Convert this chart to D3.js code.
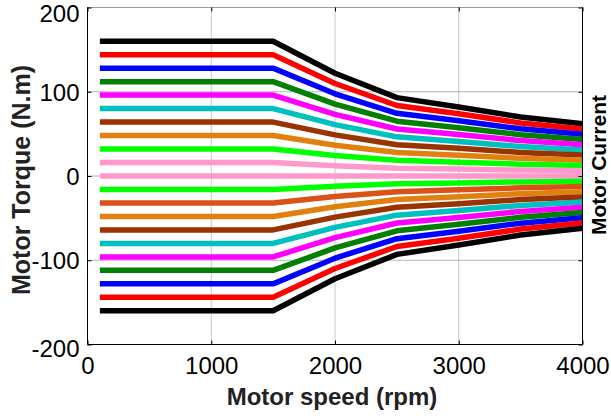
<!DOCTYPE html>
<html>
<head>
<meta charset="utf-8">
<script src="https://cdn.jsdelivr.net/npm/d3@7"></script>
<style>
  html, body { margin: 0; padding: 0; background: #fff; }
  svg { display: block; }
  text { font-family: "Liberation Sans", Arial, sans-serif; }
</style>
</head>
<body>
<svg id="chart" width="611" height="418"></svg>
<script>
// ---- data ----
const speeds = [100, 1500, 2000, 2500, 3000, 3500, 4000];
const xTicks = [0, 1000, 2000, 3000, 4000];
const yTicks = [-200, -100, 0, 100, 200];

const t10 = [160, 160, 122, 93, 82, 70, 62];
const t9  = [144, 144, 109.8, 83.7, 73.8, 63, 55.8];
const t8  = [128, 128, 97.6, 74.4, 65.6, 56, 49.6];
const t7  = [112, 112, 85.4, 65.1, 57.4, 49, 43.4];
const t6  = [96, 96, 73.2, 55.8, 49.2, 42, 37.2];
const t5  = [80, 80, 61, 46.5, 41, 35, 31];
const t4  = [64, 64, 48.8, 37.2, 32.8, 28, 24.8];
const t3  = [48, 48, 36.6, 27.9, 24.6, 21, 18.6];
const t2  = [32, 32, 24.4, 18.6, 16.4, 14, 12.4];
const t1  = [16, 16, 12.2, 9.3, 8.2, 7, 6.2];
const t0  = [0, 0, 0, 0, 0, 0, 0];
const n1  = [-16, -16, -12.2, -9.3, -8.2, -7, -6.2];
const n2  = [-32, -32, -24.4, -18.6, -16.4, -14, -12.4];
const n3  = [-48, -48, -36.6, -27.9, -24.6, -21, -18.6];
const n4  = [-64, -64, -48.8, -37.2, -32.8, -28, -24.8];
const n5  = [-80, -80, -61, -46.5, -41, -35, -31];
const n6  = [-96, -96, -73.2, -55.8, -49.2, -42, -37.2];
const n7  = [-112, -112, -85.4, -65.1, -57.4, -49, -43.4];
const n8  = [-128, -128, -97.6, -74.4, -65.6, -56, -49.6];
const n9  = [-144, -144, -109.8, -83.7, -73.8, -63, -55.8];
const n10 = [-160, -160, -122, -93, -82, -70, -62];

const seriesValues = [t10, t9, t8, t7, t6, t5, t4, t3, t2, t1, t0,
                      n1, n2, n3, n4, n5, n6, n7, n8, n9, n10];
const seriesColors = ["#000000", "#ff0000", "#0000ff", "#007f00", "#ff00ff", "#00bfbf",
                      "#993300", "#e08010", "#00ff00", "#ff99cc", "#ff99cc",
                      "#00ff00", "#d95319", "#e08010", "#993300", "#00bfbf",
                      "#ff00ff", "#007f00", "#0000ff", "#ff0000", "#000000"];

const xTitle = "Motor speed (rpm)";
const yTitle = "Motor Torque (N.m)";
const y2Title = "Motor Current";

// ---- layout ----
const svg = d3.select("#chart");
const L = 87.5, R = 582.5, T = 7.5, B = 344.5;

const x = d3.scaleLinear().domain([0, 4000]).range([L, R]);
const y = d3.scaleLinear().domain([-200, 200]).range([B, T]);
const fmt = d => String(d);

// grid
const grid = svg.append("g");
grid.selectAll("line.gx").data(xTicks.filter(d => d > 0 && d < 4000)).join("line")
  .attr("x1", d => x(d)).attr("x2", d => x(d)).attr("y1", T).attr("y2", B)
  .attr("stroke", "#8c8c8c").attr("stroke-width", 1).attr("stroke-dasharray", "1,1");
grid.selectAll("line.gy").data(yTicks.filter(d => d > -200 && d < 200)).join("line")
  .attr("x1", L).attr("x2", R).attr("y1", d => y(d)).attr("y2", d => y(d))
  .attr("stroke", "#6a6a6a").attr("stroke-width", 1).attr("stroke-dasharray", "1,1");

// series
const line = d3.line().x((d, i) => x(speeds[i])).y(d => y(d));
svg.append("g").selectAll("path").data(seriesValues).join("path")
  .attr("d", d => line(d))
  .attr("fill", "none")
  .attr("stroke", (d, i) => seriesColors[i])
  .attr("stroke-width", 5.5)
  .attr("stroke-linejoin", "round")
  .attr("stroke-linecap", "butt");

// frame: top dotted, others solid
svg.append("line").attr("x1", L).attr("x2", R).attr("y1", T).attr("y2", T)
  .attr("stroke", "#333").attr("stroke-width", 1).attr("stroke-dasharray", "1,1");
svg.append("line").attr("x1", L).attr("x2", L).attr("y1", T).attr("y2", B).attr("stroke", "#000");
svg.append("line").attr("x1", R).attr("x2", R).attr("y1", T).attr("y2", B).attr("stroke", "#000");
svg.append("line").attr("x1", L).attr("x2", R).attr("y1", B).attr("y2", B).attr("stroke", "#000");

// axes with inward ticks
const axL = d3.axisLeft(y).tickValues(yTicks).tickFormat(fmt).tickSizeInner(-4).tickSizeOuter(0).tickPadding(8);
const gL = svg.append("g").attr("transform", `translate(${L},0)`).call(axL);
const axR = d3.axisRight(y).tickValues(yTicks).tickSizeInner(-4).tickSizeOuter(0).tickFormat("");
const gR = svg.append("g").attr("transform", `translate(${R},0)`).call(axR);
const axB = d3.axisBottom(x).tickValues(xTicks).tickFormat(fmt).tickSizeInner(-4).tickSizeOuter(0).tickPadding(8);
const gB = svg.append("g").attr("transform", `translate(0,${B})`).call(axB);
const axT = d3.axisTop(x).tickValues(xTicks).tickSizeInner(-4).tickSizeOuter(0).tickFormat("");
const gT = svg.append("g").attr("transform", `translate(0,${T})`).call(axT);

[gL, gR, gB, gT].forEach(g => {
  g.select(".domain").remove();
  g.selectAll(".tick line").attr("stroke", "#000");
});
gL.selectAll(".tick text")
  .attr("font-family", "Liberation Sans, Arial, sans-serif")
  .attr("font-size", 24).attr("fill", "#000")
  .attr("dy", d => (d === 200 ? "0.6em" : d === -200 ? "0.48em" : "0.35em"));
gB.selectAll(".tick text")
  .attr("font-family", "Liberation Sans, Arial, sans-serif")
  .attr("font-size", 24).attr("fill", "#000")
  .attr("y", 12).attr("dy", "0.71em");

// titles
svg.append("text").attr("x", 332).attr("y", 405).attr("text-anchor", "middle")
  .attr("font-size", 24).attr("font-weight", "bold").attr("fill", "#222").text(xTitle);
svg.append("text").attr("transform", "translate(30,180) rotate(-90)").attr("text-anchor", "middle")
  .attr("font-size", 25).attr("font-weight", "bold").attr("fill", "#222").text(yTitle);
svg.append("text").attr("transform", "translate(606,165) rotate(-90)").attr("text-anchor", "middle")
  .attr("font-size", 21).attr("font-weight", "bold").attr("fill", "#000").text(y2Title);
</script>
</body>
</html>
